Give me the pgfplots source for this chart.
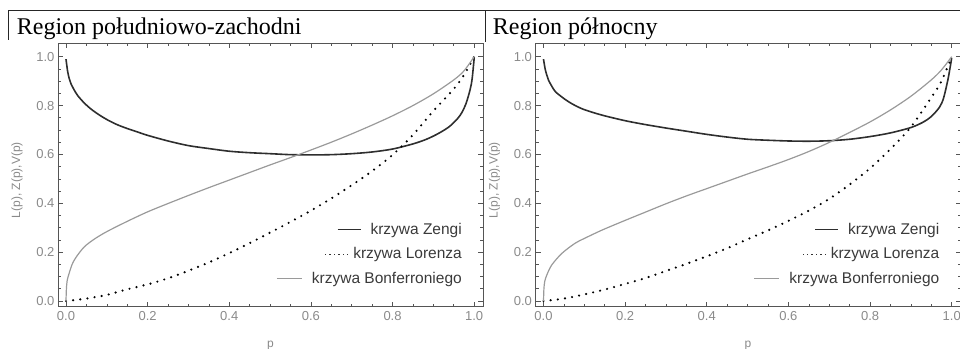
\documentclass[border=0pt]{standalone}
\usepackage{fontspec}
\setmainfont{Liberation Serif}
\newfontfamily\arial{Liberation Sans}
\usepackage{pgfplots}
\pgfplotsset{compat=1.18}
\definecolor{framecol}{HTML}{555555}
\definecolor{labcol}{HTML}{8A8A8A}
\definecolor{zengcol}{HTML}{2E2E2E}
\definecolor{boncol}{HTML}{9A9A9A}
\definecolor{legcol}{HTML}{3A3A3A}
\newcommand{\zsample}{\textcolor{zengcol}{\rule[3.8pt]{23pt}{1.8pt}}\hspace{10pt}}
\newcommand{\lsample}{\textcolor{black!80}{\hbox to 27pt{\cleaders\hbox to 4.4pt{\hss\rule[3.8pt]{1.4pt}{1.4pt}\hss}\hfill}}\hspace{3pt}}
\newcommand{\bsample}{\textcolor{boncol}{\rule[4.1pt]{25pt}{1.1pt}}\hspace{10pt}}
\pgfplotsset{
  zeng/.style={zengcol, line width=1.6pt, smooth},
  lor/.style={black, line width=2.4pt, dash pattern=on 0pt off 7.2pt, line cap=round, smooth},
  bon/.style={boncol, line width=1.2pt, smooth},
  panel/.style={
  anchor=south west, scale only axis, width=425pt, height=263.4pt,
  xmin=-0.0196, xmax=1.0216, ymin=-0.0233, ymax=1.0548,
  xtick={0,0.2,0.4,0.6,0.8,1}, ytick={0,0.2,0.4,0.6,0.8,1},
  minor x tick num=3, minor y tick num=3,
  tick align=inside, major tick length=5pt, minor tick length=3pt,
  axis line style={draw=framecol, line width=0.9pt},
  every tick/.style={draw=framecol, line width=0.6pt},
  /pgf/number format/assume math mode=true,
  xticklabel style={/pgf/number format/fixed, /pgf/number format/fixed zerofill, /pgf/number format/precision=1, yshift=-1.5pt},
  yticklabel style={/pgf/number format/fixed, /pgf/number format/fixed zerofill, /pgf/number format/precision=1},
  tick label style={font=\arial\fontsize{13}{13}\selectfont, text=labcol},
  xlabel={p}, ylabel={L(p), Z(p),V(p)},
  every axis x label/.style={at={(axis description cs:0.5,-0.153)}, anchor=base, font=\arial\fontsize{12}{12}\selectfont, text=labcol},
  every axis y label/.style={at={(axis description cs:-0.0965,0.481)}, anchor=center, rotate=90, font=\arial\fontsize{12}{12}\selectfont, text=labcol},
  legend image code/.code={},
  legend cell align=right,
  legend style={at={(axis description cs:0.9506,0.075)}, anchor=south east, draw=none, fill=none, inner sep=0pt, row sep=10pt, font=\arial\fontsize{15.5}{15.5}\selectfont, text=legcol, nodes={inner sep=0pt, text height=11pt, text depth=3.5pt}},
  }
}
\begin{document}
\begin{tikzpicture}[x=1pt,y=1pt]
\path[use as bounding box] (0,0) rectangle (960,348);
\node[anchor=base west, inner sep=0pt, font=\fontsize{24}{24}\selectfont] at (16.7,313) {Region południowo-zachodni};
\node[anchor=base west, inner sep=0pt, font=\fontsize{24}{24}\selectfont] at (492.7,313) {Region północny};
\draw[line width=1pt, color=black!85] (8.3,308) -- (8.3,337.3) -- (960,337.3);
\draw[line width=1pt, color=black!85] (485,306.3) -- (485,337.3);

\begin{axis}[panel, at={(58pt,41.3pt)}]
\addplot[zeng] coordinates {(0,0.99) (0.004,0.94) (0.008,0.91) (0.012,0.89) (0.02,0.864) (0.029,0.84) (0.045,0.81) (0.061,0.786) (0.082,0.761) (0.102,0.741) (0.125,0.722) (0.15,0.706) (0.175,0.692) (0.2,0.678) (0.25,0.655) (0.3,0.636) (0.35,0.624) (0.4,0.613) (0.45,0.607) (0.5,0.603) (0.55,0.599) (0.6,0.598) (0.65,0.599) (0.7,0.603) (0.75,0.610) (0.8,0.622) (0.85,0.643) (0.88,0.66) (0.9,0.675) (0.92,0.693) (0.94,0.715) (0.96,0.748) (0.97,0.772) (0.98,0.808) (0.99,0.865) (0.995,0.91) (1.0,0.995)};
\addlegendentry{\zsample krzywa Zengi}
\addplot[lor] coordinates {(0,0) (0.05,0.01) (0.1,0.025) (0.15,0.048) (0.2,0.068) (0.25,0.093) (0.3,0.124) (0.35,0.158) (0.4,0.196) (0.45,0.237) (0.5,0.28) (0.55,0.324) (0.6,0.37) (0.65,0.42) (0.7,0.474) (0.75,0.532) (0.8,0.598) (0.85,0.68) (0.9,0.778) (0.95,0.868) (0.975,0.925) (1.0,1.0)};
\addlegendentry{\lsample krzywa Lorenza}
\addplot[bon] coordinates {(0,0) (0.001,0.05) (0.003,0.085) (0.008,0.115) (0.015,0.15) (0.025,0.18) (0.045,0.222) (0.07,0.254) (0.1,0.284) (0.15,0.326) (0.2,0.365) (0.25,0.399) (0.3,0.432) (0.35,0.464) (0.4,0.495) (0.45,0.526) (0.5,0.557) (0.55,0.587) (0.6,0.618) (0.65,0.65) (0.7,0.684) (0.75,0.72) (0.8,0.758) (0.85,0.8) (0.9,0.848) (0.95,0.905) (0.975,0.942) (1.0,1.0)};
\addlegendentry{\bsample krzywa Bonferroniego}
\end{axis}

\begin{axis}[panel, at={(535.5pt,41.3pt)}]
\addplot[zeng] coordinates {(0,0.99) (0.004,0.95) (0.008,0.925) (0.012,0.905) (0.02,0.88) (0.029,0.857) (0.045,0.835) (0.061,0.816) (0.08,0.798) (0.102,0.782) (0.143,0.761) (0.2,0.738) (0.25,0.722) (0.3,0.708) (0.35,0.695) (0.4,0.682) (0.45,0.671) (0.5,0.662) (0.55,0.658) (0.6,0.655) (0.65,0.654) (0.7,0.656) (0.75,0.662) (0.8,0.673) (0.85,0.688) (0.9,0.71) (0.93,0.732) (0.95,0.755) (0.97,0.793) (0.98,0.83) (0.99,0.9) (0.995,0.945) (1.0,0.995)};
\addlegendentry{\zsample krzywa Zengi}
\addplot[lor] coordinates {(0,0) (0.05,0.01) (0.1,0.027) (0.15,0.047) (0.2,0.07) (0.25,0.094) (0.3,0.123) (0.35,0.152) (0.4,0.183) (0.45,0.216) (0.5,0.253) (0.55,0.289) (0.6,0.328) (0.65,0.37) (0.7,0.418) (0.75,0.477) (0.8,0.543) (0.85,0.622) (0.9,0.712) (0.95,0.833) (0.975,0.9) (1.0,1.0)};
\addlegendentry{\lsample krzywa Lorenza}
\addplot[bon] coordinates {(0,0) (0.001,0.05) (0.003,0.08) (0.008,0.106) (0.02,0.147) (0.045,0.195) (0.077,0.236) (0.1,0.256) (0.143,0.29) (0.2,0.33) (0.25,0.364) (0.3,0.398) (0.35,0.43) (0.4,0.46) (0.45,0.49) (0.5,0.52) (0.55,0.549) (0.6,0.579) (0.65,0.612) (0.7,0.649) (0.75,0.69) (0.8,0.733) (0.85,0.782) (0.9,0.838) (0.95,0.905) (0.975,0.946) (1.0,1.0)};
\addlegendentry{\bsample krzywa Bonferroniego}
\end{axis}
\end{tikzpicture}
\end{document}
